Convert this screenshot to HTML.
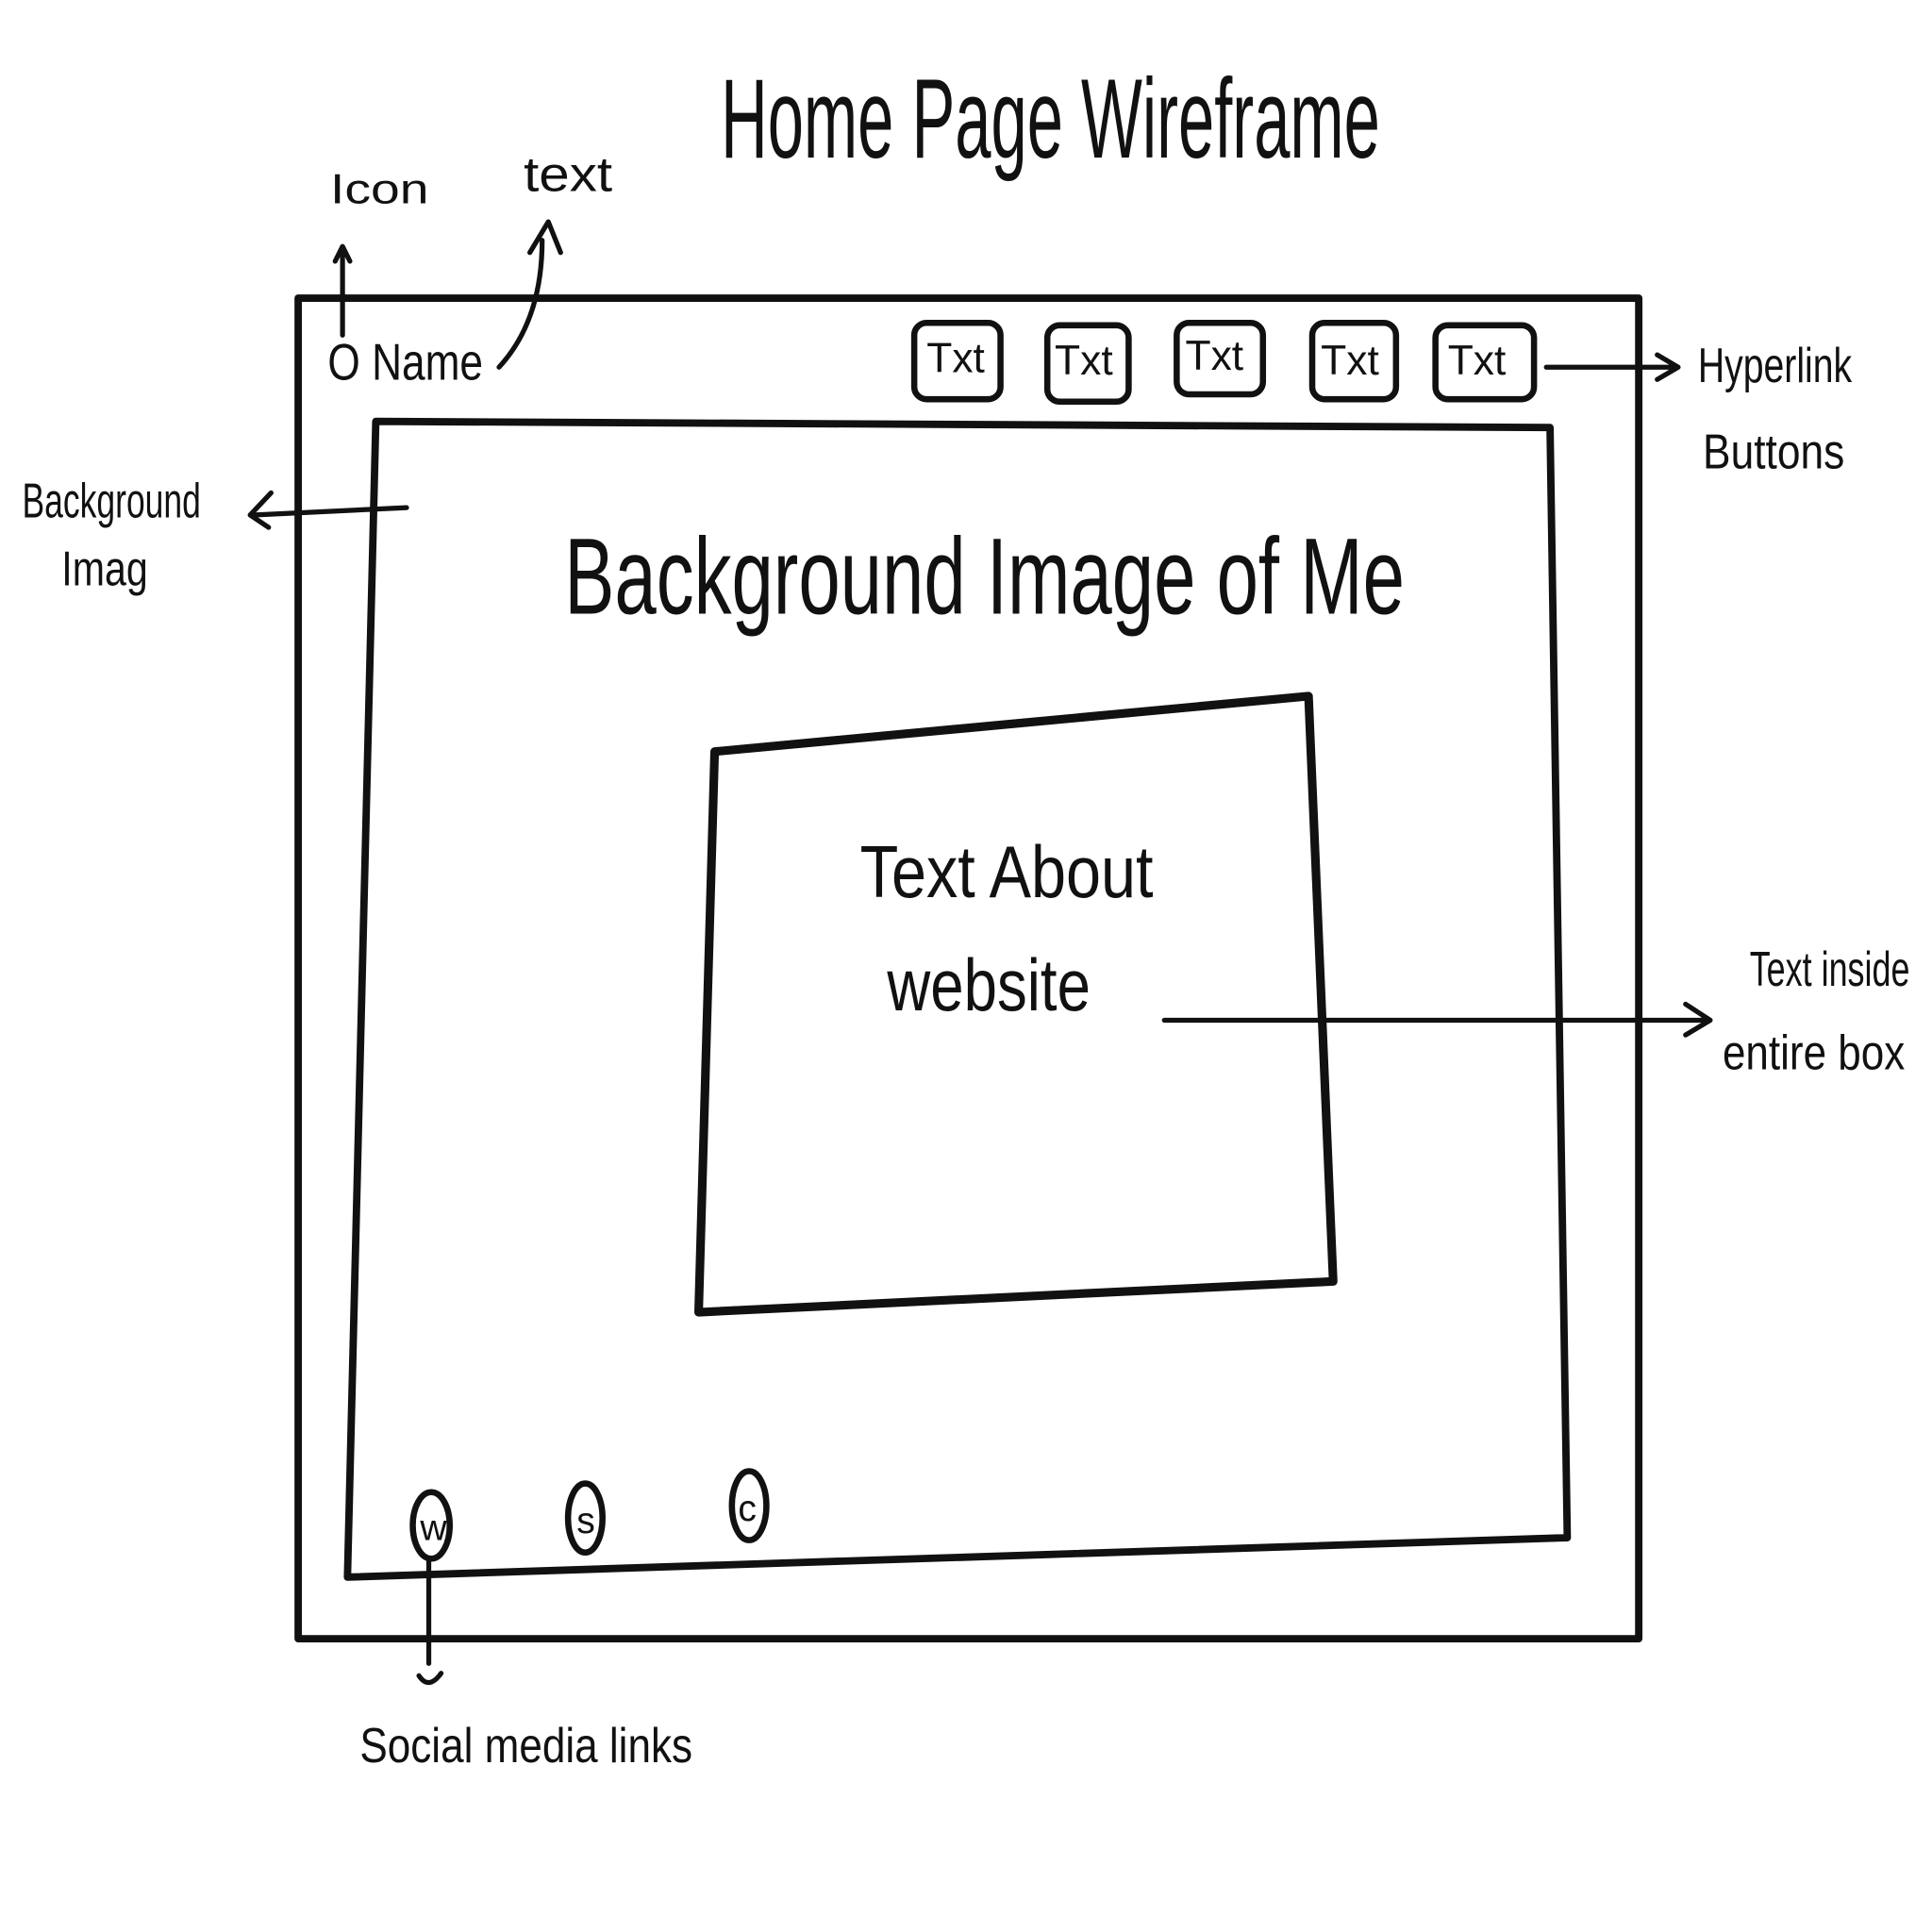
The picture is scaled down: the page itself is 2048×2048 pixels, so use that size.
<!DOCTYPE html>
<html><head><meta charset="utf-8"><style>
html,body{margin:0;padding:0;background:#fff;width:2048px;height:2048px;overflow:hidden}
svg{display:block}
text{font-family:"Liberation Sans Narrow","Liberation Sans",sans-serif;fill:#111}
</style></head><body>
<svg width="2048" height="2048" viewBox="0 0 1568 1568">
<g fill="none" stroke="#111" stroke-linecap="round" stroke-linejoin="round">
  <rect x="242" y="242" width="1088" height="1088" stroke-width="6"/>
  <polygon points="305,342 1258,347 1272,1248 282,1280" stroke-width="6"/>
  <polygon points="580,610 1062,565 1082,1040 567,1065" stroke-width="7"/>
  <g stroke-width="5">
    <rect x="742" y="262" width="70" height="62" rx="10"/>
    <rect x="850" y="264" width="66" height="62" rx="10"/>
    <rect x="955" y="262" width="70" height="58" rx="10"/>
    <rect x="1065" y="262" width="68" height="62" rx="10"/>
    <rect x="1165" y="264" width="80" height="60" rx="10"/>
  </g>
  <ellipse cx="350" cy="1238" rx="15" ry="27" stroke-width="5"/>
  <ellipse cx="475" cy="1232" rx="14" ry="28" stroke-width="5"/>
  <ellipse cx="608" cy="1222" rx="14" ry="28" stroke-width="5"/>
  <g stroke-width="4">
    <path d="M278,272 L278,205 M272,212 L278,200 L284,212"/>
    <path d="M405,298 Q440,260 440,195 M430,205 L445,180 L455,205"/>
    <path d="M1255,298 L1360,298 M1345,288 L1362,298 L1345,308"/>
    <path d="M330,412 L205,418 M220,400 L203,418 L218,428"/>
    <path d="M945,828 L1385,828 M1368,815 L1388,828 L1368,840"/>
    <path d="M348,1265 L348,1350 M340,1360 Q348,1372 358,1358"/>
  </g>
</g>
<g font-weight="normal">
<text x="585" y="128" font-size="92" textLength="535" lengthAdjust="spacingAndGlyphs" style="font-weight:300">Home Page Wireframe</text>
<text x="268" y="165" font-size="34" textLength="80" lengthAdjust="spacingAndGlyphs">Icon</text>
<text x="425" y="155" font-size="40" textLength="72" lengthAdjust="spacingAndGlyphs">text</text>
<text x="266" y="308" font-size="42" textLength="126" lengthAdjust="spacingAndGlyphs">O Name</text>
<text font-size="34" x="752" y="302">Txt</text>
<text font-size="34" x="856" y="304">Txt</text>
<text font-size="34" x="962" y="300">Txt</text>
<text font-size="34" x="1072" y="304">Txt</text>
<text font-size="34" x="1175" y="304">Txt</text>
<text x="1378" y="310" font-size="40" textLength="125" lengthAdjust="spacingAndGlyphs">Hyperlink</text>
<text x="1382" y="380" font-size="40" textLength="115" lengthAdjust="spacingAndGlyphs">Buttons</text>
<text x="18" y="420" font-size="40" textLength="145" lengthAdjust="spacingAndGlyphs">Background</text>
<text x="50" y="475" font-size="40" textLength="70" lengthAdjust="spacingAndGlyphs">Imag</text>
<text x="458" y="498" font-size="88" textLength="682" lengthAdjust="spacingAndGlyphs">Background Image of Me</text>
<text x="698" y="728" font-size="60" textLength="238" lengthAdjust="spacingAndGlyphs">Text About</text>
<text x="720" y="820" font-size="60" textLength="165" lengthAdjust="spacingAndGlyphs">website</text>
<text x="1420" y="800" font-size="40" textLength="130" lengthAdjust="spacingAndGlyphs">Text inside</text>
<text x="1398" y="868" font-size="40" textLength="148" lengthAdjust="spacingAndGlyphs">entire box</text>
<text x="341" y="1250" font-size="30">w</text>
<text x="468" y="1244" font-size="30">s</text>
<text x="599" y="1234" font-size="30">c</text>
<text x="292" y="1430" font-size="40" textLength="270" lengthAdjust="spacingAndGlyphs">Social media links</text>
</g>
</svg>
</body></html>
